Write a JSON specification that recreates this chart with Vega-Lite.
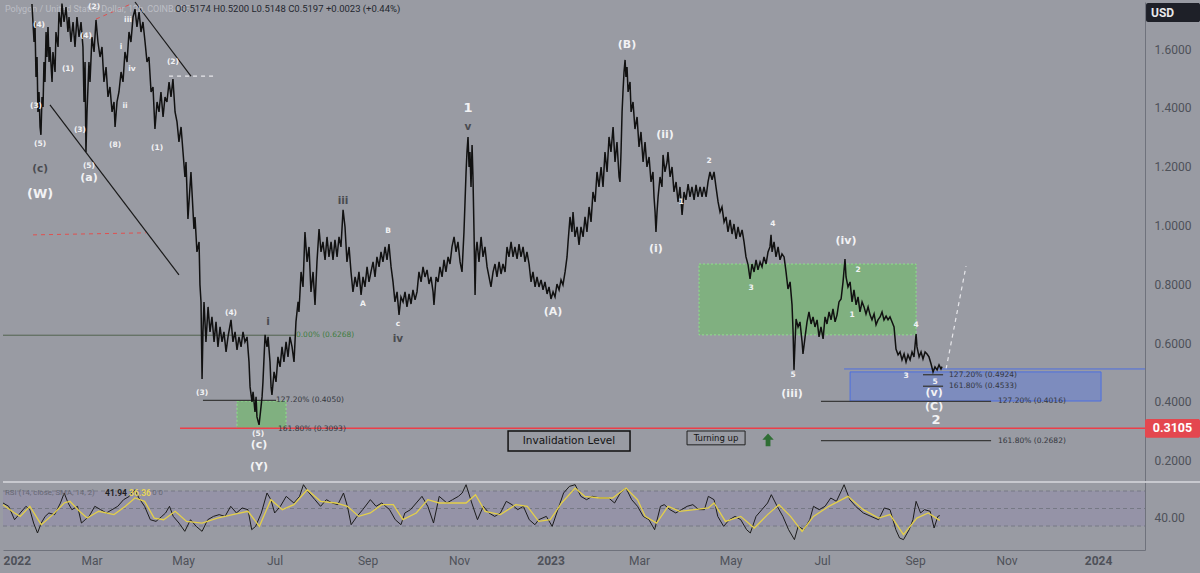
{
"$schema": "https://vega.github.io/schema/vega-lite/v6.json",
"background": "#999ba3",
"padding": 0,
"spacing": 0,
"config": {"view": {"stroke": null}, "font": "Roboto"},
"datasets": {
"price": [
{"d":19.3,"p":1.753},{"d":20.7,"p":1.624},{"d":21.3,"p":1.692},{"d":22.0,"p":1.505},{"d":22.7,"p":1.573},{"d":23.3,"p":1.386},{"d":24.0,"p":1.454},{"d":24.7,"p":1.335},{"d":25.3,"p":1.308},{"d":26.0,"p":1.437},{"d":26.7,"p":1.403},{"d":27.3,"p":1.556},{"d":28.0,"p":1.488},{"d":28.7,"p":1.658},{"d":29.3,"p":1.573},{"d":30.0,"p":1.675},{"d":30.7,"p":1.556},{"d":31.3,"p":1.607},{"d":32.7,"p":1.488},{"d":33.3,"p":1.590},{"d":34.7,"p":1.522},{"d":35.3,"p":1.658},{"d":36.7,"p":1.607},{"d":37.3,"p":1.726},{"d":38.7,"p":1.675},{"d":39.3,"p":1.755},{"d":40.7,"p":1.692},{"d":42.0,"p":1.743},{"d":43.3,"p":1.658},{"d":44.0,"p":1.709},{"d":45.3,"p":1.624},{"d":46.7,"p":1.692},{"d":48.0,"p":1.607},{"d":49.3,"p":1.709},{"d":50.7,"p":1.641},{"d":52.0,"p":1.692},{"d":53.3,"p":1.607},{"d":54.0,"p":1.420},{"d":54.7,"p":1.556},{"d":55.3,"p":1.250},{"d":56.0,"p":1.386},{"d":57.3,"p":1.556},{"d":58.0,"p":1.488},{"d":59.3,"p":1.641},{"d":60.7,"p":1.590},{"d":62.0,"p":1.699},{"d":63.3,"p":1.624},{"d":64.7,"p":1.573},{"d":66.0,"p":1.607},{"d":67.3,"p":1.488},{"d":68.7,"p":1.539},{"d":70.0,"p":1.437},{"d":71.3,"p":1.471},{"d":72.7,"p":1.386},{"d":74.0,"p":1.420},{"d":74.7,"p":1.335},{"d":76.0,"p":1.420},{"d":77.3,"p":1.454},{"d":78.7,"p":1.522},{"d":80.0,"p":1.488},{"d":81.3,"p":1.590},{"d":82.7,"p":1.556},{"d":84.0,"p":1.658},{"d":85.3,"p":1.624},{"d":86.7,"p":1.709},{"d":88.0,"p":1.736},{"d":89.3,"p":1.675},{"d":90.7,"p":1.726},{"d":92.0,"p":1.658},{"d":93.3,"p":1.692},{"d":94.7,"p":1.624},{"d":96.0,"p":1.556},{"d":97.3,"p":1.573},{"d":98.7,"p":1.454},{"d":100.0,"p":1.471},{"d":101.3,"p":1.328},{"d":102.7,"p":1.420},{"d":104.0,"p":1.386},{"d":105.3,"p":1.454},{"d":106.7,"p":1.369},{"d":108.0,"p":1.437},{"d":109.3,"p":1.420},{"d":110.7,"p":1.488},{"d":112.0,"p":1.437},{"d":113.3,"p":1.498},{"d":114.7,"p":1.386},{"d":116.0,"p":1.352},{"d":117.3,"p":1.284},{"d":118.7,"p":1.335},{"d":120.0,"p":1.250},{"d":121.3,"p":1.165},{"d":122.0,"p":1.216},{"d":123.3,"p":1.022},{"d":124.0,"p":1.080},{"d":125.3,"p":1.182},{"d":126.0,"p":1.114},{"d":127.3,"p":0.988},{"d":128.0,"p":1.029},{"d":129.3,"p":0.910},{"d":130.7,"p":0.944},{"d":131.3,"p":0.798},{"d":132.0,"p":0.740},{"d":132.7,"p":0.478},{"d":133.3,"p":0.638},{"d":134.0,"p":0.740},{"d":135.3,"p":0.604},{"d":136.7,"p":0.723},{"d":138.0,"p":0.638},{"d":139.3,"p":0.689},{"d":140.7,"p":0.604},{"d":142.0,"p":0.672},{"d":143.3,"p":0.587},{"d":144.7,"p":0.655},{"d":146.0,"p":0.604},{"d":147.3,"p":0.638},{"d":148.7,"p":0.570},{"d":150.0,"p":0.621},{"d":152.0,"p":0.679},{"d":153.3,"p":0.604},{"d":154.7,"p":0.638},{"d":156.0,"p":0.577},{"d":157.3,"p":0.621},{"d":158.7,"p":0.587},{"d":160.0,"p":0.638},{"d":161.3,"p":0.604},{"d":162.7,"p":0.621},{"d":164.0,"p":0.536},{"d":164.7,"p":0.451},{"d":166.0,"p":0.400},{"d":166.7,"p":0.434},{"d":168.0,"p":0.366},{"d":168.7,"p":0.417},{"d":169.3,"p":0.349},{"d":170.7,"p":0.322},{"d":172.0,"p":0.383},{"d":172.7,"p":0.417},{"d":173.3,"p":0.468},{"d":174.7,"p":0.628},{"d":176.0,"p":0.587},{"d":176.7,"p":0.621},{"d":178.0,"p":0.536},{"d":178.7,"p":0.451},{"d":179.3,"p":0.424},{"d":180.7,"p":0.502},{"d":182.0,"p":0.468},{"d":183.3,"p":0.553},{"d":184.7,"p":0.519},{"d":186.0,"p":0.587},{"d":187.3,"p":0.536},{"d":188.7,"p":0.604},{"d":190.0,"p":0.553},{"d":191.3,"p":0.621},{"d":192.7,"p":0.587},{"d":194.0,"p":0.536},{"d":195.3,"p":0.672},{"d":196.7,"p":0.740},{"d":197.3,"p":0.706},{"d":198.7,"p":0.842},{"d":200.0,"p":0.791},{"d":201.3,"p":0.978},{"d":202.7,"p":0.876},{"d":204.0,"p":0.927},{"d":205.3,"p":0.774},{"d":206.7,"p":0.842},{"d":208.0,"p":0.730},{"d":209.3,"p":0.876},{"d":210.7,"p":0.988},{"d":212.0,"p":0.910},{"d":213.3,"p":0.944},{"d":214.7,"p":0.883},{"d":216.0,"p":0.961},{"d":217.3,"p":0.893},{"d":218.7,"p":0.944},{"d":220.0,"p":0.883},{"d":221.3,"p":0.951},{"d":222.7,"p":0.893},{"d":224.0,"p":0.961},{"d":225.3,"p":0.927},{"d":226.7,"p":1.053},{"d":228.0,"p":0.995},{"d":229.3,"p":0.876},{"d":230.7,"p":0.927},{"d":232.0,"p":0.842},{"d":233.3,"p":0.774},{"d":234.7,"p":0.825},{"d":236.0,"p":0.791},{"d":237.3,"p":0.842},{"d":238.7,"p":0.764},{"d":240.0,"p":0.825},{"d":241.3,"p":0.791},{"d":242.7,"p":0.859},{"d":244.0,"p":0.808},{"d":245.3,"p":0.842},{"d":246.7,"p":0.876},{"d":248.0,"p":0.825},{"d":249.3,"p":0.893},{"d":250.7,"p":0.859},{"d":252.0,"p":0.910},{"d":253.3,"p":0.876},{"d":254.7,"p":0.927},{"d":256.0,"p":0.883},{"d":257.3,"p":0.937},{"d":258.7,"p":0.859},{"d":260.0,"p":0.808},{"d":261.3,"p":0.740},{"d":262.7,"p":0.774},{"d":264.0,"p":0.696},{"d":265.3,"p":0.757},{"d":266.7,"p":0.740},{"d":268.0,"p":0.774},{"d":269.3,"p":0.723},{"d":270.7,"p":0.767},{"d":272.0,"p":0.733},{"d":273.3,"p":0.781},{"d":274.7,"p":0.747},{"d":276.0,"p":0.774},{"d":277.3,"p":0.842},{"d":278.7,"p":0.808},{"d":280.0,"p":0.859},{"d":281.3,"p":0.825},{"d":282.7,"p":0.849},{"d":284.0,"p":0.801},{"d":285.3,"p":0.825},{"d":286.7,"p":0.774},{"d":287.3,"p":0.730},{"d":288.7,"p":0.825},{"d":290.0,"p":0.808},{"d":291.3,"p":0.859},{"d":292.7,"p":0.825},{"d":294.0,"p":0.883},{"d":295.3,"p":0.842},{"d":296.7,"p":0.893},{"d":298.0,"p":0.869},{"d":299.3,"p":0.927},{"d":300.7,"p":0.961},{"d":302.0,"p":0.910},{"d":303.3,"p":0.944},{"d":304.7,"p":0.876},{"d":306.0,"p":0.842},{"d":307.3,"p":0.978},{"d":308.0,"p":1.080},{"d":308.7,"p":1.182},{"d":309.3,"p":1.250},{"d":310.0,"p":1.301},{"d":310.7,"p":1.199},{"d":311.3,"p":1.250},{"d":312.0,"p":1.131},{"d":312.7,"p":1.274},{"d":313.3,"p":1.165},{"d":314.0,"p":0.978},{"d":314.7,"p":0.764},{"d":315.3,"p":0.910},{"d":316.0,"p":0.944},{"d":317.3,"p":0.876},{"d":318.7,"p":0.961},{"d":320.0,"p":0.893},{"d":321.3,"p":0.927},{"d":322.7,"p":0.859},{"d":324.0,"p":0.825},{"d":325.3,"p":0.791},{"d":326.7,"p":0.842},{"d":328.0,"p":0.869},{"d":329.3,"p":0.825},{"d":330.7,"p":0.876},{"d":332.0,"p":0.835},{"d":333.3,"p":0.869},{"d":334.7,"p":0.842},{"d":336.0,"p":0.927},{"d":337.3,"p":0.893},{"d":338.7,"p":0.944},{"d":340.0,"p":0.893},{"d":341.3,"p":0.927},{"d":342.7,"p":0.886},{"d":344.0,"p":0.937},{"d":345.3,"p":0.893},{"d":346.7,"p":0.927},{"d":348.0,"p":0.876},{"d":349.3,"p":0.910},{"d":350.7,"p":0.869},{"d":352.0,"p":0.808},{"d":353.3,"p":0.842},{"d":354.7,"p":0.791},{"d":356.0,"p":0.825},{"d":357.3,"p":0.791},{"d":358.7,"p":0.815},{"d":360.0,"p":0.781},{"d":361.3,"p":0.808},{"d":362.7,"p":0.767},{"d":364.0,"p":0.791},{"d":365.3,"p":0.750},{"d":366.7,"p":0.774},{"d":368.0,"p":0.757},{"d":369.3,"p":0.801},{"d":370.7,"p":0.781},{"d":372.0,"p":0.815},{"d":373.3,"p":0.798},{"d":374.7,"p":0.842},{"d":376.0,"p":0.893},{"d":376.7,"p":0.944},{"d":378.0,"p":1.029},{"d":379.3,"p":0.978},{"d":380.0,"p":1.046},{"d":381.3,"p":0.961},{"d":382.7,"p":0.995},{"d":384.0,"p":0.934},{"d":385.3,"p":0.995},{"d":386.7,"p":0.961},{"d":388.0,"p":1.029},{"d":389.3,"p":0.978},{"d":390.7,"p":1.063},{"d":392.0,"p":1.012},{"d":393.3,"p":1.114},{"d":394.7,"p":1.080},{"d":396.0,"p":1.182},{"d":397.3,"p":1.131},{"d":398.7,"p":1.199},{"d":400.0,"p":1.131},{"d":401.3,"p":1.250},{"d":402.7,"p":1.182},{"d":404.0,"p":1.301},{"d":405.3,"p":1.250},{"d":406.7,"p":1.335},{"d":408.0,"p":1.216},{"d":409.3,"p":1.284},{"d":410.7,"p":1.165},{"d":411.3,"p":1.148},{"d":412.0,"p":1.250},{"d":412.7,"p":1.386},{"d":413.3,"p":1.454},{"d":414.0,"p":1.522},{"d":414.7,"p":1.563},{"d":415.3,"p":1.505},{"d":416.0,"p":1.539},{"d":416.7,"p":1.454},{"d":418.0,"p":1.488},{"d":418.7,"p":1.386},{"d":420.0,"p":1.420},{"d":421.3,"p":1.328},{"d":422.7,"p":1.369},{"d":424.0,"p":1.267},{"d":425.3,"p":1.318},{"d":426.7,"p":1.216},{"d":428.0,"p":1.284},{"d":429.3,"p":1.199},{"d":430.7,"p":1.233},{"d":432.0,"p":1.148},{"d":433.3,"p":1.182},{"d":434.0,"p":1.097},{"d":434.7,"p":1.046},{"d":435.3,"p":0.978},{"d":436.0,"p":1.046},{"d":436.7,"p":1.097},{"d":438.0,"p":1.165},{"d":439.3,"p":1.131},{"d":440.0,"p":1.240},{"d":441.3,"p":1.182},{"d":442.7,"p":1.216},{"d":443.3,"p":1.250},{"d":444.7,"p":1.165},{"d":446.0,"p":1.199},{"d":447.3,"p":1.114},{"d":448.7,"p":1.148},{"d":450.0,"p":1.080},{"d":451.3,"p":1.131},{"d":452.7,"p":1.036},{"d":454.0,"p":1.114},{"d":455.3,"p":1.087},{"d":456.7,"p":1.141},{"d":458.0,"p":1.097},{"d":459.3,"p":1.131},{"d":460.7,"p":1.087},{"d":462.0,"p":1.138},{"d":463.3,"p":1.097},{"d":464.7,"p":1.131},{"d":466.0,"p":1.097},{"d":467.3,"p":1.131},{"d":468.7,"p":1.097},{"d":470.0,"p":1.148},{"d":471.3,"p":1.182},{"d":472.7,"p":1.155},{"d":474.0,"p":1.182},{"d":475.3,"p":1.131},{"d":476.7,"p":1.080},{"d":478.0,"p":1.046},{"d":479.3,"p":1.063},{"d":480.7,"p":1.012},{"d":482.0,"p":1.029},{"d":483.3,"p":0.978},{"d":484.7,"p":1.019},{"d":486.0,"p":0.971},{"d":487.3,"p":1.005},{"d":488.7,"p":0.954},{"d":490.0,"p":0.995},{"d":491.3,"p":0.961},{"d":492.7,"p":0.985},{"d":494.0,"p":0.944},{"d":495.3,"p":0.893},{"d":496.7,"p":0.866},{"d":498.0,"p":0.818},{"d":499.3,"p":0.869},{"d":500.7,"p":0.842},{"d":502.0,"p":0.883},{"d":503.3,"p":0.849},{"d":504.7,"p":0.876},{"d":506.0,"p":0.859},{"d":507.3,"p":0.893},{"d":508.7,"p":0.869},{"d":510.0,"p":0.910},{"d":511.3,"p":0.927},{"d":512.0,"p":0.968},{"d":512.7,"p":0.910},{"d":514.0,"p":0.944},{"d":515.3,"p":0.893},{"d":516.7,"p":0.927},{"d":518.0,"p":0.883},{"d":519.3,"p":0.903},{"d":520.7,"p":0.893},{"d":522.0,"p":0.842},{"d":523.3,"p":0.784},{"d":524.7,"p":0.808},{"d":526.0,"p":0.730},{"d":526.7,"p":0.638},{"d":527.3,"p":0.509},{"d":528.0,"p":0.604},{"d":528.7,"p":0.682},{"d":530.0,"p":0.655},{"d":531.3,"p":0.672},{"d":532.7,"p":0.604},{"d":533.3,"p":0.563},{"d":534.7,"p":0.621},{"d":536.0,"p":0.672},{"d":537.3,"p":0.706},{"d":538.7,"p":0.665},{"d":540.0,"p":0.689},{"d":541.3,"p":0.655},{"d":542.7,"p":0.679},{"d":544.0,"p":0.621},{"d":545.3,"p":0.655},{"d":546.7,"p":0.614},{"d":548.0,"p":0.689},{"d":549.3,"p":0.665},{"d":550.7,"p":0.706},{"d":552.0,"p":0.679},{"d":553.3,"p":0.716},{"d":554.7,"p":0.672},{"d":556.0,"p":0.696},{"d":557.3,"p":0.740},{"d":558.7,"p":0.750},{"d":560.0,"p":0.808},{"d":561.3,"p":0.886},{"d":562.0,"p":0.825},{"d":563.3,"p":0.791},{"d":564.7,"p":0.808},{"d":566.0,"p":0.740},{"d":567.3,"p":0.781},{"d":568.7,"p":0.730},{"d":570.0,"p":0.757},{"d":571.3,"p":0.706},{"d":572.7,"p":0.740},{"d":574.0,"p":0.723},{"d":575.3,"p":0.699},{"d":576.7,"p":0.723},{"d":578.0,"p":0.696},{"d":579.3,"p":0.679},{"d":580.7,"p":0.699},{"d":582.0,"p":0.662},{"d":583.3,"p":0.679},{"d":584.7,"p":0.689},{"d":586.0,"p":0.706},{"d":587.3,"p":0.679},{"d":588.7,"p":0.692},{"d":590.0,"p":0.679},{"d":591.3,"p":0.689},{"d":592.7,"p":0.672},{"d":594.0,"p":0.655},{"d":595.3,"p":0.580},{"d":596.7,"p":0.560},{"d":598.0,"p":0.570},{"d":599.3,"p":0.543},{"d":600.7,"p":0.563},{"d":602.0,"p":0.536},{"d":603.3,"p":0.560},{"d":604.7,"p":0.543},{"d":606.0,"p":0.570},{"d":607.3,"p":0.553},{"d":608.7,"p":0.631},{"d":609.3,"p":0.587},{"d":610.7,"p":0.553},{"d":612.0,"p":0.570},{"d":613.3,"p":0.546},{"d":614.7,"p":0.570},{"d":616.0,"p":0.563},{"d":617.3,"p":0.553},{"d":618.7,"p":0.529},{"d":620.0,"p":0.502},{"d":621.3,"p":0.519},{"d":622.7,"p":0.509},{"d":624.0,"p":0.526},{"d":625.3,"p":0.512},{"d":626.0,"p":0.520}
],
"rsi": [
{"d":0,"r":56.3},{"d":3.8,"r":52.5},{"d":7.7,"r":37.2},{"d":11.5,"r":44.9},{"d":15.3,"r":52.5},{"d":17.9,"r":48.7},{"d":20.4,"r":33.4},{"d":23.0,"r":22.0},{"d":25.5,"r":33.4},{"d":28.1,"r":41.0},{"d":30.6,"r":44.9},{"d":34.4,"r":43.0},{"d":38.3,"r":56.3},{"d":40.8,"r":67.7},{"d":43.4,"r":56.3},{"d":45.9,"r":48.7},{"d":49.7,"r":52.5},{"d":52.3,"r":33.4},{"d":54.8,"r":37.2},{"d":57.4,"r":41.0},{"d":61.2,"r":52.5},{"d":65.1,"r":48.7},{"d":68.9,"r":44.9},{"d":72.7,"r":48.7},{"d":76.5,"r":52.5},{"d":80.4,"r":60.1},{"d":84.2,"r":63.9},{"d":88.0,"r":71.5},{"d":90.6,"r":62.0},{"d":94.4,"r":52.5},{"d":98.2,"r":37.2},{"d":102.0,"r":35.3},{"d":105.9,"r":41.0},{"d":108.4,"r":44.9},{"d":111.0,"r":52.5},{"d":113.5,"r":41.0},{"d":117.3,"r":33.4},{"d":121.2,"r":23.9},{"d":125.0,"r":37.2},{"d":128.8,"r":29.6},{"d":132.7,"r":23.9},{"d":136.5,"r":37.2},{"d":140.3,"r":41.0},{"d":144.1,"r":43.0},{"d":148.0,"r":41.0},{"d":151.8,"r":52.5},{"d":155.6,"r":44.9},{"d":159.4,"r":50.6},{"d":163.3,"r":48.7},{"d":165.8,"r":25.8},{"d":168.4,"r":29.6},{"d":172.2,"r":44.9},{"d":176.0,"r":67.7},{"d":178.6,"r":60.1},{"d":181.1,"r":44.9},{"d":184.9,"r":52.5},{"d":188.8,"r":63.9},{"d":193.9,"r":56.3},{"d":197.7,"r":63.9},{"d":200.3,"r":77.2},{"d":204.1,"r":67.7},{"d":207.9,"r":60.1},{"d":211.7,"r":52.5},{"d":215.6,"r":60.1},{"d":219.4,"r":56.3},{"d":223.2,"r":54.4},{"d":227.0,"r":67.7},{"d":229.6,"r":52.5},{"d":232.1,"r":31.5},{"d":236.0,"r":41.0},{"d":239.8,"r":48.7},{"d":244.9,"r":60.1},{"d":248.7,"r":52.5},{"d":252.5,"r":56.3},{"d":257.7,"r":48.7},{"d":261.5,"r":37.2},{"d":265.3,"r":31.5},{"d":267.9,"r":44.9},{"d":271.7,"r":48.7},{"d":275.5,"r":56.3},{"d":279.3,"r":63.9},{"d":283.2,"r":52.5},{"d":287.0,"r":33.4},{"d":290.8,"r":63.9},{"d":295.9,"r":56.3},{"d":299.7,"r":60.1},{"d":303.6,"r":63.9},{"d":306.1,"r":67.7},{"d":308.7,"r":77.2},{"d":312.5,"r":56.3},{"d":316.3,"r":37.2},{"d":320.2,"r":52.5},{"d":324.0,"r":44.9},{"d":327.8,"r":41.0},{"d":331.6,"r":44.9},{"d":335.5,"r":58.2},{"d":339.3,"r":54.4},{"d":343.1,"r":48.7},{"d":346.9,"r":52.5},{"d":350.8,"r":37.2},{"d":354.6,"r":31.5},{"d":357.1,"r":37.2},{"d":362.2,"r":41.0},{"d":366.1,"r":29.6},{"d":369.9,"r":48.7},{"d":373.7,"r":67.7},{"d":377.6,"r":75.3},{"d":381.4,"r":77.2},{"d":385.2,"r":63.9},{"d":389.0,"r":60.1},{"d":392.9,"r":63.9},{"d":398.0,"r":62.0},
{"d":403.8,"r":62.0},{"d":407.7,"r":56.3},{"d":411.5,"r":67.7},{"d":415.3,"r":73.4},{"d":419.1,"r":60.1},{"d":423.0,"r":52.5},{"d":426.8,"r":41.0},{"d":430.6,"r":37.2},{"d":434.4,"r":25.8},{"d":438.3,"r":52.5},{"d":440.8,"r":54.4},{"d":444.6,"r":48.7},{"d":448.5,"r":44.9},{"d":452.3,"r":48.7},{"d":456.1,"r":52.5},{"d":459.9,"r":54.4},{"d":463.8,"r":48.7},{"d":467.6,"r":48.7},{"d":470.2,"r":63.9},{"d":474.0,"r":60.1},{"d":476.5,"r":41.0},{"d":480.4,"r":29.6},{"d":484.2,"r":37.2},{"d":488.0,"r":41.0},{"d":491.8,"r":37.2},{"d":495.7,"r":25.8},{"d":498.2,"r":22.0},{"d":502.0,"r":41.0},{"d":505.9,"r":48.7},{"d":509.7,"r":56.3},{"d":512.2,"r":65.8},{"d":516.1,"r":52.5},{"d":519.9,"r":41.0},{"d":523.7,"r":25.8},{"d":527.6,"r":14.4},{"d":530.1,"r":29.6},{"d":533.9,"r":25.8},{"d":537.8,"r":37.2},{"d":540.3,"r":52.5},{"d":544.1,"r":48.7},{"d":548.0,"r":52.5},{"d":551.8,"r":62.0},{"d":555.6,"r":58.2},{"d":558.2,"r":67.7},{"d":560.7,"r":77.2},{"d":564.5,"r":60.1},{"d":568.4,"r":52.5},{"d":573.5,"r":44.9},{"d":578.6,"r":41.0},{"d":583.7,"r":37.2},{"d":587.5,"r":50.6},{"d":591.3,"r":48.7},{"d":595.2,"r":25.8},{"d":597.7,"r":16.3},{"d":600.3,"r":14.4},{"d":604.1,"r":25.8},{"d":606.6,"r":37.2},{"d":608.7,"r":58.2},{"d":611.7,"r":44.9},{"d":614.3,"r":48.7},{"d":618.1,"r":46.8},{"d":620.7,"r":27.7},{"d":623.2,"r":41.0},{"d":624.5,"r":41.9}
],
"sma": [
{"d":0,"r":54.4},{"d":7.7,"r":44.9},{"d":11.5,"r":41.0},{"d":17.9,"r":52.5},{"d":25.5,"r":31.5},{"d":33.2,"r":43.0},{"d":40.8,"r":56.3},{"d":44.6,"r":58.2},{"d":51.0,"r":46.8},{"d":56.1,"r":39.1},{"d":63.8,"r":46.8},{"d":74.0,"r":43.0},{"d":81.6,"r":52.5},{"d":88.0,"r":62.0},{"d":94.4,"r":58.2},{"d":100.8,"r":39.1},{"d":107.1,"r":37.2},{"d":114.8,"r":46.8},{"d":122.4,"r":35.3},{"d":132.7,"r":33.4},{"d":142.9,"r":39.1},{"d":153.1,"r":43.0},{"d":163.3,"r":46.8},{"d":170.9,"r":29.6},{"d":178.6,"r":60.1},{"d":186.2,"r":48.7},{"d":193.9,"r":54.4},{"d":202.8,"r":71.5},{"d":211.7,"r":58.2},{"d":221.9,"r":56.3},{"d":229.6,"r":52.5},{"d":237.2,"r":41.0},{"d":244.9,"r":44.9},{"d":252.5,"r":54.4},{"d":260.2,"r":54.4},{"d":266.6,"r":37.2},{"d":275.5,"r":44.9},{"d":283.2,"r":60.1},{"d":290.8,"r":56.3},{"d":298.5,"r":56.3},{"d":308.7,"r":56.3},{"d":315.0,"r":65.8},{"d":321.4,"r":46.8},{"d":331.6,"r":43.0},{"d":341.8,"r":54.4},{"d":349.5,"r":52.5},{"d":357.1,"r":35.3},{"d":364.8,"r":37.2},{"d":372.4,"r":56.3},{"d":381.4,"r":73.4},{"d":387.8,"r":63.9},{"d":398.0,"r":62.0},
{"d":406.4,"r":62.0},{"d":415.3,"r":73.4},{"d":423.0,"r":60.1},{"d":428.1,"r":41.0},{"d":435.7,"r":33.4},{"d":443.4,"r":52.5},{"d":451.0,"r":46.8},{"d":461.2,"r":48.7},{"d":470.2,"r":50.6},{"d":474.0,"r":56.3},{"d":481.6,"r":35.3},{"d":491.8,"r":41.0},{"d":500.8,"r":27.7},{"d":509.7,"r":43.0},{"d":517.3,"r":54.4},{"d":525.0,"r":41.0},{"d":532.7,"r":23.9},{"d":540.3,"r":41.0},{"d":550.5,"r":52.5},{"d":563.3,"r":63.9},{"d":573.5,"r":48.7},{"d":583.7,"r":39.1},{"d":591.3,"r":43.0},{"d":600.3,"r":20.1},{"d":609.2,"r":39.1},{"d":616.8,"r":44.9},{"d":624.5,"r":36.4}
],
"segs": [
{"d":88.0,"p":1.760,"d2":125.3,"p2":1.508,"k":"blk"},
{"d":31.3,"p":1.410,"d2":117.3,"p2":0.832,"k":"blk"},
{"d":133.3,"p":0.405,"d2":182.0,"p2":0.405,"k":"fib"},
{"d":613.3,"p":0.4924,"d2":626.7,"p2":0.4924,"k":"fib"},
{"d":613.3,"p":0.4533,"d2":626.7,"p2":0.4533,"k":"fib"},
{"d":545.3,"p":0.4016,"d2":658.7,"p2":0.4016,"k":"fib"},
{"d":545.3,"p":0.2682,"d2":658.7,"p2":0.2682,"k":"fib"},
{"d":0,"p":0.6268,"d2":195.3,"p2":0.6268,"k":"olive"},
{"d":110.7,"p":1.508,"d2":142.0,"p2":1.508,"k":"wdash"},
{"d":628.7,"p":0.512,"d2":642.0,"p2":0.862,"k":"wdash"},
{"d":62.0,"p":1.702,"d2":85.3,"p2":1.753,"k":"rdash"},
{"d":20.0,"p":0.968,"d2":95.3,"p2":0.975,"k":"rdash"},
{"d":118.0,"p":0.3105,"d2":761.3,"p2":0.3105,"k":"red"},
{"d":560.7,"p":0.512,"d2":761.3,"p2":0.512,"k":"blue"}
],
"boxes": [
{"d":156.0,"p":0.403,"d2":188.7,"p2":0.310,"k":"g"},
{"d":464.0,"p":0.869,"d2":608.7,"p2":0.628,"k":"g"},
{"d":564.7,"p":0.502,"d2":732.0,"p2":0.403,"k":"b"},
{"d":336.7,"p":0.301,"d2":418.0,"p2":0.233,"k":"f1"},
{"d":456.0,"p":0.301,"d2":494.7,"p2":0.254,"k":"f2"},
{"d":762.0,"p":1.757,"d2":798.0,"p2":1.692,"k":"usd"},
{"d":761.3,"p":0.342,"d2":798.0,"p2":0.278,"k":"redlbl"}
],
"arrow": [{"d":510.0,"p":0.271}],
"labels": [
{"d":24.0,"p":1.682,"t":"(4)","k":"ws"},
{"d":22.0,"p":1.407,"t":"(3)","k":"ws"},
{"d":24.7,"p":1.277,"t":"(5)","k":"ws"},
{"d":43.3,"p":1.532,"t":"(1)","k":"ws"},
{"d":60.7,"p":1.743,"t":"(2)","k":"ws"},
{"d":55.3,"p":1.644,"t":"(4)","k":"ws"},
{"d":51.3,"p":1.325,"t":"(3)","k":"ws"},
{"d":57.3,"p":1.202,"t":"(5)","k":"ws"},
{"d":74.7,"p":1.274,"t":"(8)","k":"ws"},
{"d":102.7,"p":1.264,"t":"(1)","k":"ws"},
{"d":113.3,"p":1.556,"t":"(2)","k":"ws"},
{"d":78.7,"p":1.607,"t":"i","k":"ws"},
{"d":83.3,"p":1.699,"t":"iii","k":"ws"},
{"d":86.0,"p":1.532,"t":"iv","k":"ws"},
{"d":81.3,"p":1.406,"t":"ii","k":"ws"},
{"d":152.0,"p":0.703,"t":"(4)","k":"ws"},
{"d":132.7,"p":0.431,"t":"(3)","k":"ws"},
{"d":170.0,"p":0.291,"t":"(5)","k":"ws"},
{"d":256.7,"p":0.981,"t":"B","k":"ws"},
{"d":240.0,"p":0.733,"t":"A","k":"ws"},
{"d":263.3,"p":0.665,"t":"c","k":"ws"},
{"d":452.0,"p":1.080,"t":"1","k":"ws"},
{"d":470.7,"p":1.219,"t":"2","k":"ws"},
{"d":513.3,"p":1.005,"t":"4","k":"ws"},
{"d":498.7,"p":0.788,"t":"3","k":"ws"},
{"d":526.7,"p":0.492,"t":"5","k":"ws"},
{"d":570.0,"p":0.849,"t":"2","k":"ws"},
{"d":566.0,"p":0.696,"t":"1","k":"ws"},
{"d":608.7,"p":0.662,"t":"4","k":"ws"},
{"d":602.0,"p":0.488,"t":"3","k":"ws"},
{"d":621.3,"p":0.468,"t":"5","k":"ws"},
{"d":57.3,"p":1.162,"t":"(a)","k":"wm"},
{"d":416.0,"p":1.614,"t":"(B)","k":"wm"},
{"d":441.3,"p":1.308,"t":"(ii)","k":"wm"},
{"d":435.3,"p":0.920,"t":"(i)","k":"wm"},
{"d":366.7,"p":0.706,"t":"(A)","k":"wm"},
{"d":526.0,"p":0.427,"t":"(iii)","k":"wm"},
{"d":562.0,"p":0.947,"t":"(iv)","k":"wm"},
{"d":620.7,"p":0.431,"t":"(v)","k":"wm"},
{"d":620.7,"p":0.383,"t":"(C)","k":"wm"},
{"d":170.7,"p":0.254,"t":"(c)","k":"wm"},
{"d":170.7,"p":0.179,"t":"(Y)","k":"wm"},
{"d":24.7,"p":1.108,"t":"(W)","k":"wl"},
{"d":310.0,"p":1.400,"t":"1","k":"wl"},
{"d":622.0,"p":0.339,"t":"2","k":"wl"},
{"d":24.7,"p":1.192,"t":"(c)","k":"dk"},
{"d":310.0,"p":1.335,"t":"v","k":"dk"},
{"d":226.7,"p":1.083,"t":"iii","k":"dk"},
{"d":263.3,"p":0.614,"t":"iv","k":"dk"},
{"d":176.7,"p":0.672,"t":"i","k":"dk"},
{"d":182.0,"p":0.405,"t":"127.20% (0.4050)","k":"fib"},
{"d":183.3,"p":0.309,"t":"161.80% (0.3093)","k":"fib"},
{"d":630.7,"p":0.4924,"t":"127.20% (0.4924)","k":"fib"},
{"d":630.7,"p":0.4533,"t":"161.80% (0.4533)","k":"fib"},
{"d":663.3,"p":0.4016,"t":"127.20% (0.4016)","k":"fib"},
{"d":663.3,"p":0.2682,"t":"161.80% (0.2682)","k":"fib"},
{"d":195.3,"p":0.6268,"t":"0.00% (0.6268)","k":"fibg"},
{"d":377.3,"p":0.267,"t":"Invalidation Level","k":"f1"},
{"d":475.3,"p":0.278,"t":"Turning up","k":"f2"},
{"d":765.3,"p":1.724,"t":"USD","k":"usd"},
{"d":779.6,"p":0.3105,"t":"0.3105","k":"redlbl"}
],
"legend": [
{"d":1.3,"p":1.736,"t":"Polygon / United States Dollar, 12h, COINBASE","k":"a"},
{"d":114.7,"p":1.736,"t":"O0.5174   H0.5200   L0.5148   C0.5197   +0.0023 (+0.44%)","k":"b"}
],
"rsiband": [{"d":0,"d2":761.3,"r":70,"r2":30}],
"rsilines": [{"d":0,"d2":761.3,"r":70},{"d":0,"d2":761.3,"r":50},{"d":0,"d2":761.3,"r":30}],
"rsitop": [{"d":0,"d2":800,"r":80.3}],
"rsihead": [
{"d":1.3,"r":67.7,"t":"RSI (14, close, SMA, 14, 2)","k":"a"},
{"d":68.0,"r":67.7,"t":"41.94","k":"b"},
{"d":84.0,"r":67.7,"t":"36.36","k":"c"},
{"d":99.5,"r":67.7,"t":"0  0","k":"a"}
]
},
"vconcat": [
{
"width": 1142,
"height": 479,
"encoding": {
"x": {"field": "d", "type": "quantitative", "scale": {"domain": [0, 761.3], "nice": false, "zero": false}, "axis": null},
"y": {"field": "p", "type": "quantitative", "scale": {"domain": [0.131, 1.76], "nice": false, "zero": false},
"axis": {"orient": "right", "values": [0.2, 0.4, 0.6, 0.8, 1.0, 1.2, 1.4, 1.6], "format": ".4f", "grid": false, "ticks": false, "tickSize": 0, "labelPadding": 9, "labelColor": "#4e5159", "labelFontSize": 12, "labelFont": "Roboto", "domainColor": "#6f727c", "title": null, "minExtent": 58, "maxExtent": 58}}
},
"layer": [
{"data": {"name": "boxes"}, "transform": [{"filter": "datum.k=='g'"}], "mark": {"type": "rect", "fill": "#67c55d", "fillOpacity": 0.5, "stroke": "#8ee28a", "strokeWidth": 1, "strokeDash": [2, 2]}, "encoding": {"x2": {"field": "d2"}, "y2": {"field": "p2"}}},
{"data": {"name": "boxes"}, "transform": [{"filter": "datum.k=='b'"}], "mark": {"type": "rect", "fill": "#617dd9", "fillOpacity": 0.5, "stroke": "#4d6fe0", "strokeWidth": 1}, "encoding": {"x2": {"field": "d2"}, "y2": {"field": "p2"}}},
{"data": {"name": "boxes"}, "transform": [{"filter": "datum.k=='f1'"}], "mark": {"type": "rect", "filled": false, "stroke": "#111111", "strokeWidth": 1.5}, "encoding": {"x2": {"field": "d2"}, "y2": {"field": "p2"}}},
{"data": {"name": "boxes"}, "transform": [{"filter": "datum.k=='f2'"}], "mark": {"type": "rect", "filled": false, "stroke": "#222222", "strokeWidth": 1}, "encoding": {"x2": {"field": "d2"}, "y2": {"field": "p2"}}},
{"data": {"name": "boxes"}, "transform": [{"filter": "datum.k=='usd'"}], "mark": {"type": "rect", "fill": "#1e2028", "cornerRadius": 2}, "encoding": {"x2": {"field": "d2"}, "y2": {"field": "p2"}}},
{"data": {"name": "boxes"}, "transform": [{"filter": "datum.k=='redlbl'"}], "mark": {"type": "rect", "fill": "#e4474f", "cornerRadius": 2}, "encoding": {"x2": {"field": "d2"}, "y2": {"field": "p2"}}},
{"data": {"name": "segs"}, "transform": [{"filter": "datum.k=='blk'"}], "mark": {"type": "rule", "stroke": "#1a1a1a", "strokeWidth": 1.2}, "encoding": {"x2": {"field": "d2"}, "y2": {"field": "p2"}}},
{"data": {"name": "segs"}, "transform": [{"filter": "datum.k=='fib'"}], "mark": {"type": "rule", "stroke": "#3a3a3a", "strokeWidth": 1.3}, "encoding": {"x2": {"field": "d2"}, "y2": {"field": "p2"}}},
{"data": {"name": "segs"}, "transform": [{"filter": "datum.k=='olive'"}], "mark": {"type": "rule", "stroke": "#52634f", "strokeWidth": 1}, "encoding": {"x2": {"field": "d2"}, "y2": {"field": "p2"}}},
{"data": {"name": "segs"}, "transform": [{"filter": "datum.k=='wdash'"}], "mark": {"type": "rule", "stroke": "#e6e6ea", "strokeWidth": 1.2, "strokeDash": [4, 4]}, "encoding": {"x2": {"field": "d2"}, "y2": {"field": "p2"}}},
{"data": {"name": "segs"}, "transform": [{"filter": "datum.k=='rdash'"}], "mark": {"type": "rule", "stroke": "#e0504f", "strokeWidth": 1, "strokeDash": [4, 4]}, "encoding": {"x2": {"field": "d2"}, "y2": {"field": "p2"}}},
{"data": {"name": "segs"}, "transform": [{"filter": "datum.k=='red'"}], "mark": {"type": "rule", "stroke": "#ec3f49", "strokeWidth": 1.5}, "encoding": {"x2": {"field": "d2"}, "y2": {"field": "p2"}}},
{"data": {"name": "segs"}, "transform": [{"filter": "datum.k=='blue'"}], "mark": {"type": "rule", "stroke": "#4d6fe0", "strokeWidth": 1}, "encoding": {"x2": {"field": "d2"}, "y2": {"field": "p2"}}},
{"data": {"name": "legend"}, "transform": [{"filter": "datum.k=='a'"}], "mark": {"type": "text", "align": "left", "baseline": "middle", "font": "Roboto", "fontSize": 9, "color": "#bcbec5"}, "encoding": {"text": {"field": "t"}}},
{"data": {"name": "legend"}, "transform": [{"filter": "datum.k=='b'"}], "mark": {"type": "text", "align": "left", "baseline": "middle", "font": "Roboto", "fontSize": 9.5, "color": "#24272f"}, "encoding": {"text": {"field": "t"}}},
{"data": {"name": "price"}, "mark": {"type": "line", "stroke": "#111111", "strokeWidth": 1.5}, "encoding": {}},
{"data": {"name": "arrow"}, "mark": {"type": "point", "shape": "M0,-1L0.9,0L0.38,0L0.38,1L-0.38,1L-0.38,0L-0.9,0Z", "size": 160, "filled": true, "fill": "#2f6e34", "strokeWidth": 0, "opacity": 1}, "encoding": {}},
{"data": {"name": "labels"}, "transform": [{"filter": "datum.k=='ws'"}], "mark": {"type": "text", "align": "center", "baseline": "middle", "font": "DejaVu Sans", "fontSize": 7.5, "fontWeight": "bold", "color": "#f2f2f4"}, "encoding": {"text": {"field": "t"}}},
{"data": {"name": "labels"}, "transform": [{"filter": "datum.k=='wm'"}], "mark": {"type": "text", "align": "center", "baseline": "middle", "font": "DejaVu Sans", "fontSize": 11, "fontWeight": "bold", "color": "#f2f2f4"}, "encoding": {"text": {"field": "t"}}},
{"data": {"name": "labels"}, "transform": [{"filter": "datum.k=='wl'"}], "mark": {"type": "text", "align": "center", "baseline": "middle", "font": "DejaVu Sans", "fontSize": 13, "fontWeight": "bold", "color": "#f2f2f4"}, "encoding": {"text": {"field": "t"}}},
{"data": {"name": "labels"}, "transform": [{"filter": "datum.k=='dk'"}], "mark": {"type": "text", "align": "center", "baseline": "middle", "font": "DejaVu Sans", "fontSize": 10.5, "fontWeight": "bold", "color": "#4a4b50"}, "encoding": {"text": {"field": "t"}}},
{"data": {"name": "labels"}, "transform": [{"filter": "datum.k=='fib'"}], "mark": {"type": "text", "align": "left", "baseline": "middle", "font": "DejaVu Sans", "fontSize": 7.5, "color": "#33363d"}, "encoding": {"text": {"field": "t"}}},
{"data": {"name": "labels"}, "transform": [{"filter": "datum.k=='fibg'"}], "mark": {"type": "text", "align": "left", "baseline": "middle", "font": "DejaVu Sans", "fontSize": 7.5, "color": "#3f7d3f"}, "encoding": {"text": {"field": "t"}}},
{"data": {"name": "labels"}, "transform": [{"filter": "datum.k=='f1'"}], "mark": {"type": "text", "align": "center", "baseline": "middle", "font": "DejaVu Sans", "fontSize": 10.5, "color": "#141414"}, "encoding": {"text": {"field": "t"}}},
{"data": {"name": "labels"}, "transform": [{"filter": "datum.k=='f2'"}], "mark": {"type": "text", "align": "center", "baseline": "middle", "font": "DejaVu Sans", "fontSize": 8.5, "color": "#141414"}, "encoding": {"text": {"field": "t"}}},
{"data": {"name": "labels"}, "transform": [{"filter": "datum.k=='usd'"}], "mark": {"type": "text", "align": "left", "baseline": "middle", "font": "Roboto", "fontSize": 12, "fontWeight": "bold", "color": "#e8e8ea"}, "encoding": {"text": {"field": "t"}}},
{"data": {"name": "labels"}, "transform": [{"filter": "datum.k=='redlbl'"}], "mark": {"type": "text", "align": "center", "baseline": "middle", "font": "Roboto", "fontSize": 12.5, "fontWeight": "bold", "color": "#ffffff"}, "encoding": {"text": {"field": "t"}}}
]
},
{
"width": 1142,
"height": 68,
"encoding": {
"x": {"field": "d", "type": "quantitative", "scale": {"domain": [0, 761.3], "nice": false, "zero": false},
"axis": {"orient": "bottom", "values": [0, 59, 120, 181, 243, 304, 365, 424, 485, 546, 608, 669, 730], "labelExpr": "datum.value==0?'2022':datum.value==59?'Mar':datum.value==120?'May':datum.value==181?'Jul':datum.value==243?'Sep':datum.value==304?'Nov':datum.value==365?'2023':datum.value==424?'Mar':datum.value==485?'May':datum.value==546?'Jul':datum.value==608?'Sep':datum.value==669?'Nov':'2024'", "labelFlush": true, "grid": false, "ticks": false, "tickSize": 0, "labelPadding": 5, "labelColor": "#4e5159", "labelFontSize": 12, "labelFont": "Roboto", "labelFontWeight": {"condition": {"test": "datum.value==0||datum.value==365||datum.value==730", "value": "bold"}, "value": "normal"}, "domainColor": "#6f727c", "title": null, "minExtent": 26, "maxExtent": 26}},
"y": {"field": "r", "type": "quantitative", "scale": {"domain": [2.57, 80.3], "nice": false, "zero": false},
"axis": {"orient": "right", "values": [40], "format": ".2f", "grid": false, "ticks": false, "tickSize": 0, "labelPadding": 9, "labelColor": "#4e5159", "labelFontSize": 12, "labelFont": "Roboto", "domainColor": "#6f727c", "title": null, "minExtent": 58, "maxExtent": 58}}
},
"layer": [
{"data": {"name": "rsiband"}, "mark": {"type": "rect", "fill": "#7e57c2", "fillOpacity": 0.12}, "encoding": {"x2": {"field": "d2"}, "y2": {"field": "r2"}}},
{"data": {"name": "rsilines"}, "mark": {"type": "rule", "stroke": "#767985", "strokeWidth": 1, "strokeDash": [4, 3]}, "encoding": {"x2": {"field": "d2"}}},
{"data": {"name": "rsitop"}, "mark": {"type": "rule", "stroke": "#d9d9de", "strokeWidth": 1.5}, "encoding": {"x2": {"field": "d2"}}},
{"data": {"name": "rsi"}, "mark": {"type": "line", "stroke": "#1c1c1c", "strokeWidth": 1}, "encoding": {}},
{"data": {"name": "sma"}, "mark": {"type": "line", "stroke": "#e3cf4a", "strokeWidth": 1.3}, "encoding": {}},
{"data": {"name": "rsihead"}, "transform": [{"filter": "datum.k=='a'"}], "mark": {"type": "text", "align": "left", "baseline": "middle", "font": "Roboto", "fontSize": 7.8, "color": "#656873"}, "encoding": {"text": {"field": "t"}}},
{"data": {"name": "rsihead"}, "transform": [{"filter": "datum.k=='b'"}], "mark": {"type": "text", "align": "left", "baseline": "middle", "font": "Roboto", "fontSize": 8.5, "fontWeight": "bold", "color": "#1e1e22"}, "encoding": {"text": {"field": "t"}}},
{"data": {"name": "rsihead"}, "transform": [{"filter": "datum.k=='c'"}], "mark": {"type": "text", "align": "left", "baseline": "middle", "font": "Roboto", "fontSize": 8.5, "fontWeight": "bold", "color": "#e6d35a"}, "encoding": {"text": {"field": "t"}}}
]
}
]
}
